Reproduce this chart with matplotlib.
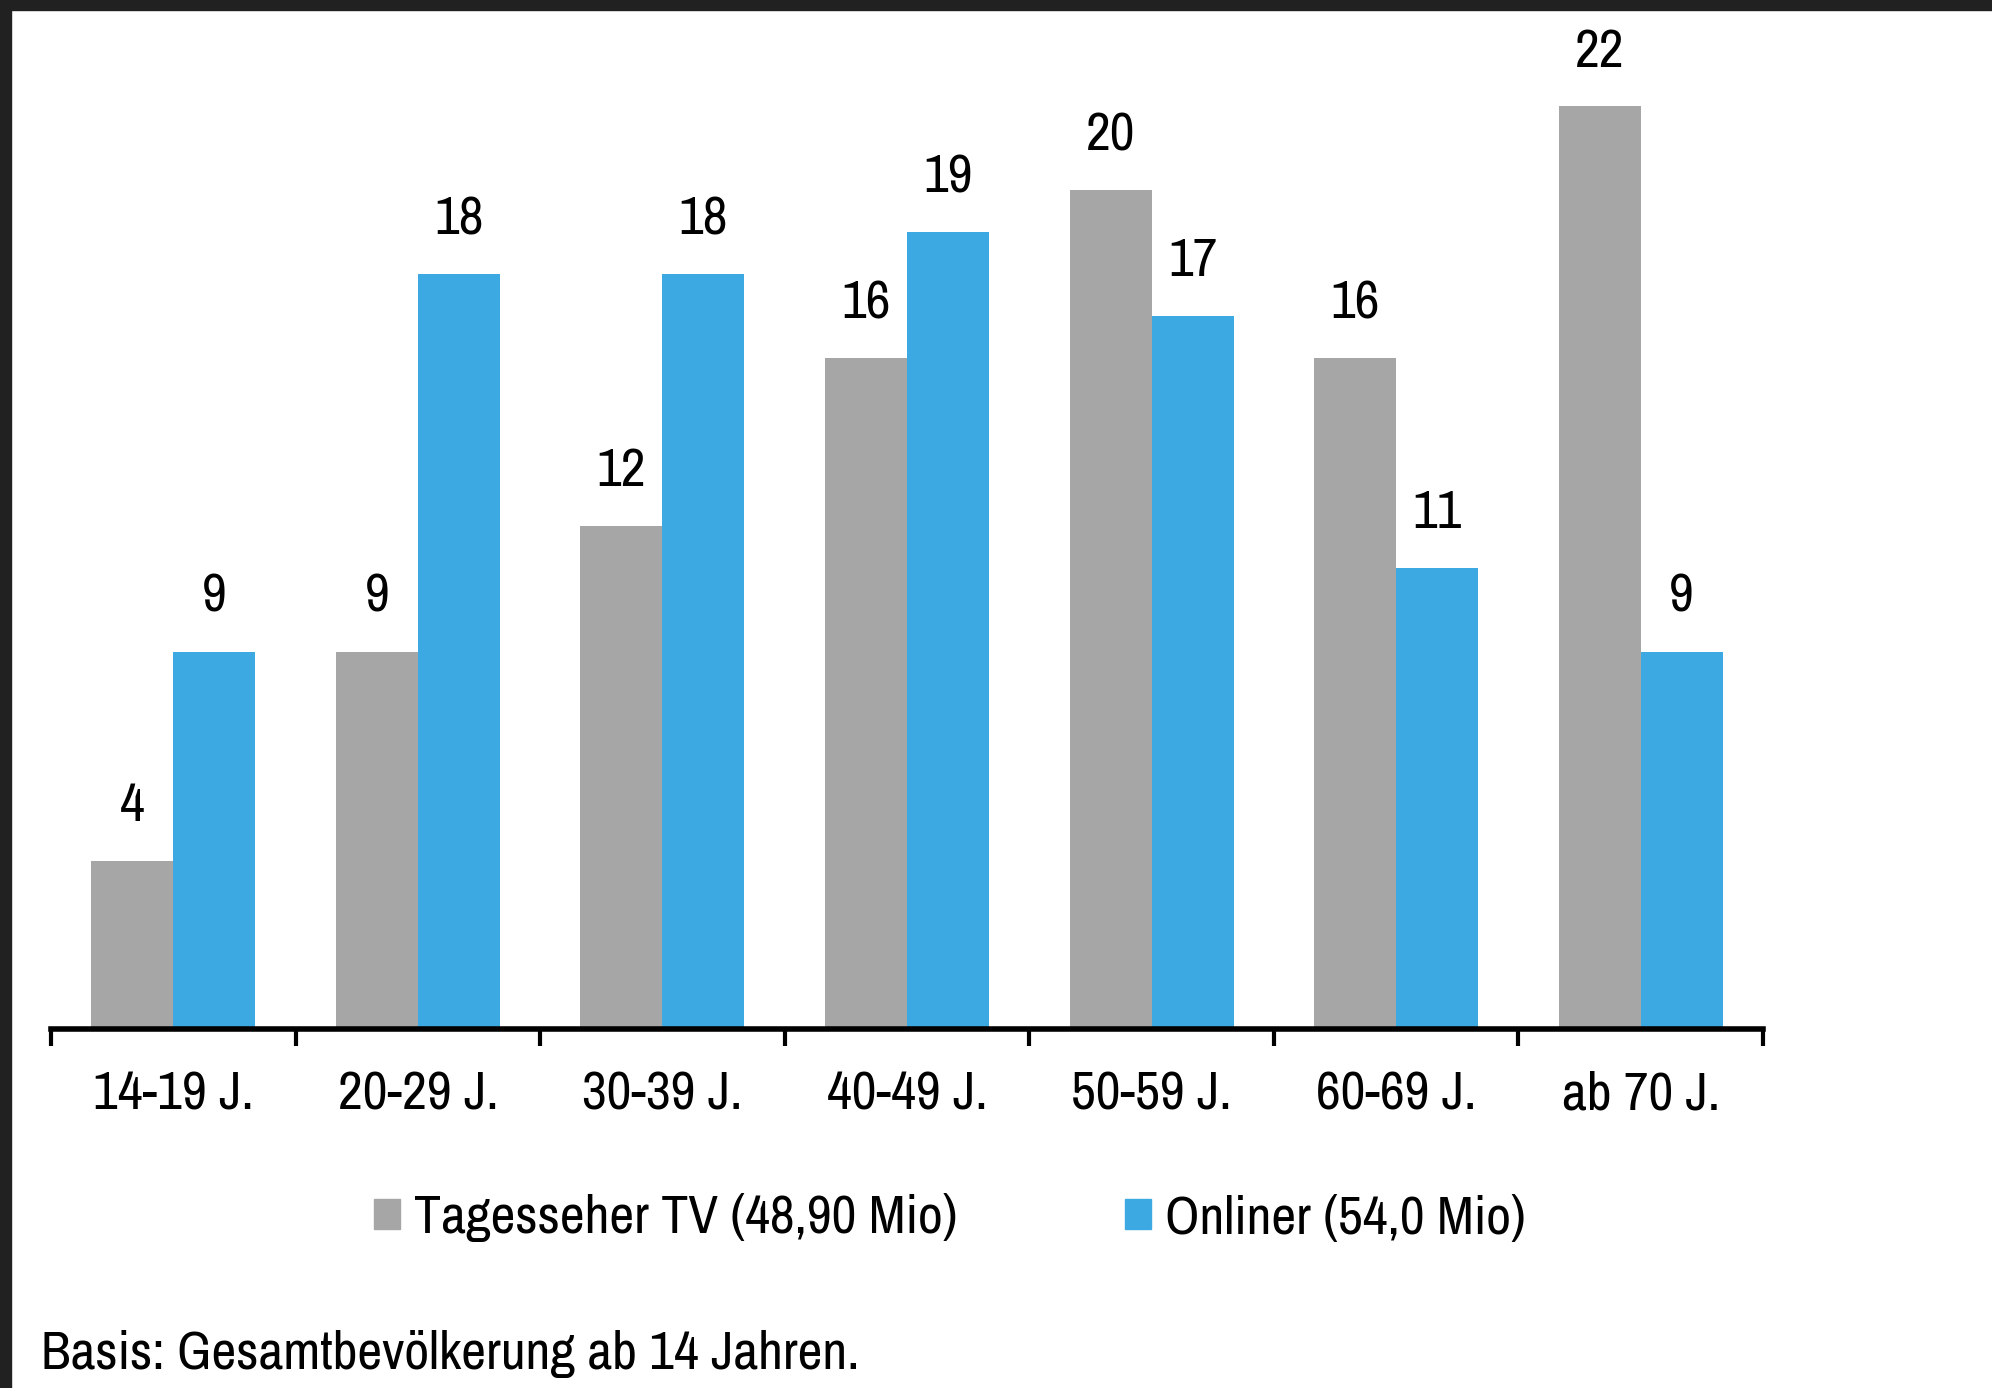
import matplotlib
matplotlib.use('Agg')
import matplotlib.pyplot as plt
from matplotlib import font_manager
from matplotlib.font_manager import FontProperties
from matplotlib.patches import Rectangle, Patch
import numpy as np

# Daten
categories = ['14-19 J.', '20-29 J.', '30-39 J.', '40-49 J.', '50-59 J.', '60-69 J.', 'ab 70 J.']
tv_values = [4, 9, 12, 16, 20, 16, 22]
online_values = [9, 18, 18, 19, 17, 11, 9]
series_names = ['Tagesseher TV (48,90 Mio)', 'Onliner (54,0 Mio)']
footnote = 'Basis: Gesamtbevölkerung ab 14 Jahren.'

gray = '#a6a6a6'
blue = '#3da9e3'


# look for a narrow / condensed sans font, the original uses Helvetica Condensed
def find_narrow():
    best = None
    for f in font_manager.fontManager.ttflist:
        if f.style != 'normal' or f.weight not in (400, 'normal', 'regular'):
            continue
        n = f.name.lower()
        st = str(f.stretch)
        score = 0
        if 'narrow' in n:
            score = 5
        elif 'condensed' in n or ' cond' in n:
            score = 4
        elif 'condensed' in st:
            score = 3
        if score and ('mono' in n or 'serif' in n or 'extra' in st or 'ultra' in st):
            score -= 2
        if score > 0 and (best is None or score > best[0]):
            best = (score, f.fname)
    return best[1] if best else None


narrow = find_narrow()
if narrow:
    fs = 39
    prop = FontProperties(fname=narrow, size=fs)
else:
    fs = 35
    prop = FontProperties(family='Liberation Sans', size=fs)

W, H = 1992, 1388
fig = plt.figure(figsize=(W / 100, H / 100), dpi=100)
fig.patch.set_facecolor('white')

# axes: bottom at y=1029px, top at 10px, left 51px, right 1763px
ax = fig.add_axes([51 / W, 1 - 1029 / H, (1763 - 51) / W, (1029 - 10) / H])
ax.set_xlim(-0.5, len(categories) - 0.5)
ax.set_ylim(0, 24.3)

x = np.arange(len(categories))
bw = 0.335
ax.bar(x - bw / 2, tv_values, bw, color=gray, label=series_names[0])
ax.bar(x + bw / 2, online_values, bw, color=blue, label=series_names[1])

for xi, v in zip(x, tv_values):
    ax.text(xi - bw / 2, v + 0.95, str(v), ha='center', va='baseline', fontproperties=prop)
for xi, v in zip(x, online_values):
    ax.text(xi + bw / 2, v + 0.95, str(v), ha='center', va='baseline', fontproperties=prop)

for s in ['top', 'right', 'left']:
    ax.spines[s].set_visible(False)
ax.spines['bottom'].set_linewidth(4)
ax.set_yticks([])

ax.set_xticks(np.arange(-0.5, len(categories)), labels=[''] * (len(categories) + 1))
ax.tick_params(axis='x', which='major', direction='out', length=12, width=3)
ax.set_xticks(x, minor=True)
ax.set_xticklabels(categories, minor=True, fontproperties=prop)
ax.tick_params(axis='x', which='minor', length=0, pad=30)

handles = [Patch(color=gray), Patch(color=blue)]
fig.legend(handles, series_names, loc='center', bbox_to_anchor=(950 / W, 1 - 1218 / H),
           ncol=2, frameon=False, prop=prop, handlelength=0.48, handleheight=0.48,
           handletextpad=0.25, columnspacing=3.1)

fig.text(41 / W, 1 - 1354 / H, footnote, ha='left', va='center', fontproperties=prop)

# dark frame at top and left
fig.add_artist(Rectangle((0, 1 - 10 / H), 1, 10 / H, transform=fig.transFigure,
                         color='#212121', zorder=10))
fig.add_artist(Rectangle((0, 0), 11 / W, 1, transform=fig.transFigure,
                         color='#212121', zorder=10))

fig.savefig('out.png', dpi=100)
